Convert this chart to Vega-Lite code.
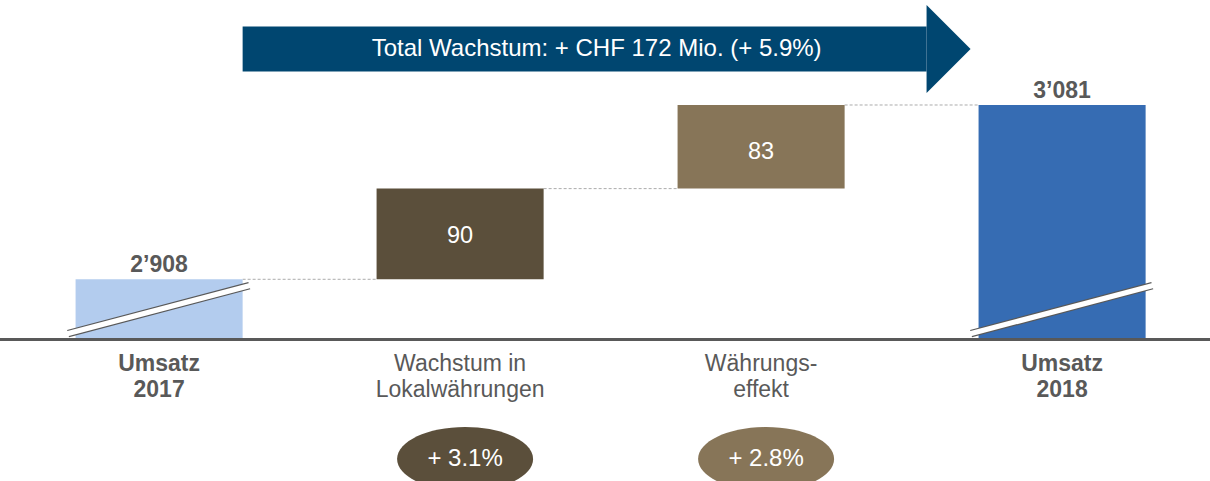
{
  "$schema": "https://vega.github.io/schema/vega-lite/v6.json",
  "width": 1210,
  "height": 481,
  "autosize": {"type": "none"},
  "padding": 0,
  "background": "white",
  "config": {"view": {"stroke": null}, "font": "Liberation Sans"},
  "datasets": {
    "bars": [
      {"cat": "Umsatz 2017", "start": 2848.75, "end": 2908, "label": "2’908", "kind": "total", "name": "Umsatz\n2017"},
      {"cat": "Wachstum in Lokalwährungen", "start": 2908, "end": 2998, "label": "90", "kind": "delta", "name": "Wachstum in\nLokalwährungen"},
      {"cat": "Währungseffekt", "start": 2998, "end": 3081, "label": "83", "kind": "delta", "name": "Währungs-\neffekt"},
      {"cat": "Umsatz 2018", "start": 2848.75, "end": 3081, "label": "3’081", "kind": "total", "name": "Umsatz\n2018"}
    ],
    "links": [
      {"from": "Umsatz 2017", "to": "Wachstum in Lokalwährungen", "v": 2908},
      {"from": "Wachstum in Lokalwährungen", "to": "Währungseffekt", "v": 2998},
      {"from": "Währungseffekt", "to": "Umsatz 2018", "v": 3081}
    ],
    "arrow": [
      {"from": "Umsatz 2017", "to": "Umsatz 2018", "text": "Total Wachstum: + CHF 172 Mio. (+ 5.9%)"}
    ],
    "pcts": [
      {"cat": "Wachstum in Lokalwährungen", "pct": "+ 3.1%"},
      {"cat": "Währungseffekt", "pct": "+ 2.8%"}
    ]
  },
  "layer": [
    {
      "data": {"name": "links"},
      "mark": {"type": "rule", "color": "#ababab", "strokeWidth": 1, "strokeDash": [3, 2]},
      "encoding": {
        "x": {"field": "from", "type": "nominal", "bandPosition": 1, "axis": null, "scale": {"domain": ["Umsatz 2017", "Wachstum in Lokalwährungen", "Währungseffekt", "Umsatz 2018"], "paddingInner": 0.445, "paddingOuter": 0.2325, "align": 0.54}},
        "x2": {"field": "to", "bandPosition": 0},
        "y": {"field": "v", "type": "quantitative", "axis": null, "scale": {"domain": [2707.8, 3185.2], "nice": false, "zero": false}}
      }
    },
    {
      "data": {"name": "bars"},
      "mark": {"type": "bar"},
      "encoding": {
        "x": {"field": "cat", "type": "nominal", "axis": null, "scale": {"domain": ["Umsatz 2017", "Wachstum in Lokalwährungen", "Währungseffekt", "Umsatz 2018"], "paddingInner": 0.445, "paddingOuter": 0.2325, "align": 0.54}},
        "y": {"field": "start", "type": "quantitative", "axis": null, "scale": {"domain": [2707.8, 3185.2], "nice": false, "zero": false}},
        "y2": {"field": "end"},
        "color": {"field": "cat", "type": "nominal", "legend": null, "scale": {"domain": ["Umsatz 2017", "Wachstum in Lokalwährungen", "Währungseffekt", "Umsatz 2018"], "range": ["#b3ccee", "#5b4f3b", "#877558", "#366cb3"]}}
      }
    },
    {
      "data": {"name": "bars"},
      "transform": [{"filter": "datum.kind === 'total'"}],
      "mark": {"type": "rule", "color": "#595959", "strokeWidth": 7.5, "strokeCap": "butt"},
      "encoding": {
        "x": {"field": "cat", "type": "nominal", "bandPosition": -0.045, "axis": null, "scale": {"domain": ["Umsatz 2017", "Wachstum in Lokalwährungen", "Währungseffekt", "Umsatz 2018"], "paddingInner": 0.445, "paddingOuter": 0.2325, "align": 0.54}},
        "x2": {"field": "cat", "bandPosition": 1.04},
        "y": {"datum": 2854.0, "type": "quantitative", "axis": null, "scale": {"domain": [2707.8, 3185.2], "nice": false, "zero": false}},
        "y2": {"datum": 2901.8}
      }
    },
    {
      "data": {"name": "bars"},
      "transform": [{"filter": "datum.kind === 'total'"}],
      "mark": {"type": "rule", "color": "white", "strokeWidth": 5.3, "strokeCap": "butt"},
      "encoding": {
        "x": {"field": "cat", "type": "nominal", "bandPosition": -0.05, "axis": null, "scale": {"domain": ["Umsatz 2017", "Wachstum in Lokalwährungen", "Währungseffekt", "Umsatz 2018"], "paddingInner": 0.445, "paddingOuter": 0.2325, "align": 0.54}},
        "x2": {"field": "cat", "bandPosition": 1.045},
        "y": {"datum": 2854.0, "type": "quantitative", "axis": null, "scale": {"domain": [2707.8, 3185.2], "nice": false, "zero": false}},
        "y2": {"datum": 2901.8}
      }
    },
    {
      "data": {"name": "bars"},
      "mark": {"type": "rule", "color": "#595959", "strokeWidth": 2.5},
      "encoding": {
        "y": {"datum": 2848.25, "type": "quantitative", "axis": null, "scale": {"domain": [2707.8, 3185.2], "nice": false, "zero": false}}
      }
    },
    {
      "data": {"name": "bars"},
      "transform": [{"filter": "datum.kind === 'total'"}],
      "mark": {"type": "text", "fontSize": 23, "fontWeight": "bold", "color": "#595959", "baseline": "alphabetic", "dy": -7},
      "encoding": {
        "x": {"field": "cat", "type": "nominal", "axis": null, "scale": {"domain": ["Umsatz 2017", "Wachstum in Lokalwährungen", "Währungseffekt", "Umsatz 2018"], "paddingInner": 0.445, "paddingOuter": 0.2325, "align": 0.54}},
        "y": {"field": "end", "type": "quantitative", "axis": null, "scale": {"domain": [2707.8, 3185.2], "nice": false, "zero": false}},
        "text": {"field": "label"}
      }
    },
    {
      "data": {"name": "bars"},
      "transform": [{"filter": "datum.kind === 'delta'"}],
      "mark": {"type": "text", "fontSize": 23.5, "color": "white", "baseline": "alphabetic", "dy": 54},
      "encoding": {
        "x": {"field": "cat", "type": "nominal", "axis": null, "scale": {"domain": ["Umsatz 2017", "Wachstum in Lokalwährungen", "Währungseffekt", "Umsatz 2018"], "paddingInner": 0.445, "paddingOuter": 0.2325, "align": 0.54}},
        "y": {"field": "end", "type": "quantitative", "axis": null, "scale": {"domain": [2707.8, 3185.2], "nice": false, "zero": false}},
        "text": {"field": "label"}
      }
    },
    {
      "data": {"name": "bars"},
      "transform": [{"filter": "datum.kind === 'total'"}],
      "mark": {"type": "text", "fontSize": 23, "fontWeight": "bold", "color": "#595959", "baseline": "alphabetic", "lineBreak": "\n", "lineHeight": 25.5},
      "encoding": {
        "x": {"field": "cat", "type": "nominal", "axis": null, "scale": {"domain": ["Umsatz 2017", "Wachstum in Lokalwährungen", "Währungseffekt", "Umsatz 2018"], "paddingInner": 0.445, "paddingOuter": 0.2325, "align": 0.54}},
        "y": {"datum": 2816.5, "type": "quantitative", "axis": null, "scale": {"domain": [2707.8, 3185.2], "nice": false, "zero": false}},
        "text": {"field": "name"}
      }
    },
    {
      "data": {"name": "bars"},
      "transform": [{"filter": "datum.kind === 'delta'"}],
      "mark": {"type": "text", "fontSize": 23, "color": "#595959", "baseline": "alphabetic", "lineBreak": "\n", "lineHeight": 25.5},
      "encoding": {
        "x": {"field": "cat", "type": "nominal", "axis": null, "scale": {"domain": ["Umsatz 2017", "Wachstum in Lokalwährungen", "Währungseffekt", "Umsatz 2018"], "paddingInner": 0.445, "paddingOuter": 0.2325, "align": 0.54}},
        "y": {"datum": 2816.5, "type": "quantitative", "axis": null, "scale": {"domain": [2707.8, 3185.2], "nice": false, "zero": false}},
        "text": {"field": "name"}
      }
    },
    {
      "data": {"name": "arrow"},
      "mark": {"type": "rect", "color": "#004670", "x2Offset": -52},
      "encoding": {
        "x": {"field": "from", "type": "nominal", "bandPosition": 1, "axis": null, "scale": {"domain": ["Umsatz 2017", "Wachstum in Lokalwährungen", "Währungseffekt", "Umsatz 2018"], "paddingInner": 0.445, "paddingOuter": 0.2325, "align": 0.54}},
        "x2": {"field": "to", "bandPosition": 0},
        "y": {"datum": 3158.9, "type": "quantitative", "axis": null, "scale": {"domain": [2707.8, 3185.2], "nice": false, "zero": false}},
        "y2": {"datum": 3114.2}
      }
    },
    {
      "data": {"name": "arrow"},
      "mark": {"type": "point", "filled": true, "opacity": 1, "color": "#004670", "strokeWidth": 0, "shape": "M-0.5,-1L0.5,0L-0.5,1Z", "size": 7744, "xOffset": -30},
      "encoding": {
        "x": {"field": "to", "type": "nominal", "bandPosition": 0, "axis": null, "scale": {"domain": ["Umsatz 2017", "Wachstum in Lokalwährungen", "Währungseffekt", "Umsatz 2018"], "paddingInner": 0.445, "paddingOuter": 0.2325, "align": 0.54}},
        "y": {"datum": 3136.6, "type": "quantitative", "axis": null, "scale": {"domain": [2707.8, 3185.2], "nice": false, "zero": false}}
      }
    },
    {
      "data": {"name": "arrow"},
      "mark": {"type": "text", "fontSize": 24, "color": "white", "baseline": "middle", "align": "center", "dx": 354},
      "encoding": {
        "x": {"field": "from", "type": "nominal", "bandPosition": 1, "axis": null, "scale": {"domain": ["Umsatz 2017", "Wachstum in Lokalwährungen", "Währungseffekt", "Umsatz 2018"], "paddingInner": 0.445, "paddingOuter": 0.2325, "align": 0.54}},
        "y": {"datum": 3136.6, "type": "quantitative", "axis": null, "scale": {"domain": [2707.8, 3185.2], "nice": false, "zero": false}},
        "text": {"field": "text"}
      }
    },
    {
      "data": {"name": "pcts"},
      "mark": {"type": "point", "filled": true, "opacity": 1, "strokeWidth": 0, "shape": "M-1,0C-1,-0.2596,-0.5523,-0.47,0,-0.47C0.5523,-0.47,1,-0.2596,1,0C1,0.2596,0.5523,0.47,0,0.47C-0.5523,0.47,-1,0.2596,-1,0Z", "size": 18496, "xOffset": 5},
      "encoding": {
        "x": {"field": "cat", "type": "nominal", "axis": null, "scale": {"domain": ["Umsatz 2017", "Wachstum in Lokalwährungen", "Währungseffekt", "Umsatz 2018"], "paddingInner": 0.445, "paddingOuter": 0.2325, "align": 0.54}},
        "y": {"datum": 2729.6, "type": "quantitative", "axis": null, "scale": {"domain": [2707.8, 3185.2], "nice": false, "zero": false}},
        "color": {"field": "cat", "type": "nominal", "legend": null, "scale": {"domain": ["Umsatz 2017", "Wachstum in Lokalwährungen", "Währungseffekt", "Umsatz 2018"], "range": ["#b3ccee", "#5b4f3b", "#877558", "#366cb3"]}}
      }
    },
    {
      "data": {"name": "pcts"},
      "mark": {"type": "text", "fontSize": 24, "color": "white", "baseline": "middle", "align": "center", "xOffset": 5},
      "encoding": {
        "x": {"field": "cat", "type": "nominal", "axis": null, "scale": {"domain": ["Umsatz 2017", "Wachstum in Lokalwährungen", "Währungseffekt", "Umsatz 2018"], "paddingInner": 0.445, "paddingOuter": 0.2325, "align": 0.54}},
        "y": {"datum": 2729.6, "type": "quantitative", "axis": null, "scale": {"domain": [2707.8, 3185.2], "nice": false, "zero": false}},
        "text": {"field": "pct"}
      }
    }
  ]
}
